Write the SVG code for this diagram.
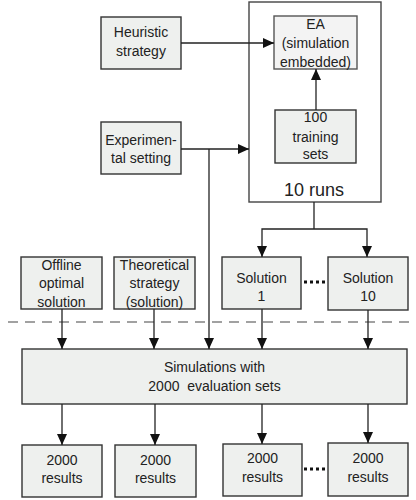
<svg xmlns="http://www.w3.org/2000/svg" width="416" height="500" viewBox="0 0 416 500">
<defs>
<marker id="ah" markerWidth="11" markerHeight="10" refX="11" refY="5" orient="auto" markerUnits="userSpaceOnUse">
<path d="M0,0 L11,5 L0,10 Z" fill="#111"/>
</marker>
<style>
.box{fill:#eef0ee;stroke:#333;stroke-width:1.4}
.ea{fill:#f3f3f3;stroke:#555;stroke-width:1.4}
.frame{fill:#fff;stroke:#444;stroke-width:1.4}
.t{font-family:"Liberation Sans",Arial,sans-serif;font-size:14px;fill:#222;text-anchor:middle}
.big{font-size:18px}
.c{stroke:#222;stroke-width:1.3;fill:none}
.a{stroke:#222;stroke-width:1.3;fill:none;marker-end:url(#ah)}
.dots{stroke:#111;stroke-width:3;stroke-dasharray:3 3}
</style>
</defs>
<rect width="416" height="500" fill="#fff"/>

<g id="runs">
<rect class="frame" x="249" y="2" width="132" height="200"/>
<text class="t big" x="314" y="196">10 runs</text>
</g>
<g id="ea">
<rect class="ea" x="274" y="16" width="83" height="53"/>
<text class="t" x="315.5" y="29">EA</text>
<text class="t" x="315.5" y="48">(simulation</text>
<text class="t" x="315.5" y="66.5">embedded)</text>
</g>
<g id="training">
<rect class="box" x="275" y="110" width="81" height="53"/>
<text class="t" x="315.5" y="122">100</text>
<text class="t" x="315.5" y="141.5">training</text>
<text class="t" x="315.5" y="159">sets</text>
</g>
<g id="heuristic">
<rect class="box" x="101" y="17" width="80" height="52"/>
<text class="t" x="141" y="37">Heuristic</text>
<text class="t" x="141" y="55.5">strategy</text>
</g>
<g id="experimental">
<rect class="box" x="101" y="122" width="80" height="52"/>
<text class="t" x="141" y="145">Experimen-</text>
<text class="t" x="141" y="163">tal setting</text>
</g>
<g id="offline">
<rect class="box" x="21" y="257" width="81" height="52"/>
<text class="t" x="61.5" y="270">Offline</text>
<text class="t" x="61.5" y="288">optimal</text>
<text class="t" x="61.5" y="306.5">solution</text>
</g>
<g id="theoretical">
<rect class="box" x="114" y="257" width="81" height="52"/>
<text class="t" x="154.5" y="270">Theoretical</text>
<text class="t" x="154.5" y="288">strategy</text>
<text class="t" x="154.5" y="306.5">(solution)</text>
</g>
<g id="solution1">
<rect class="box" x="222" y="257" width="79" height="52"/>
<text class="t" x="261.5" y="283">Solution</text>
<text class="t" x="261.5" y="301">1</text>
</g>
<g id="solution10">
<rect class="box" x="328" y="257" width="80" height="53"/>
<text class="t" x="368" y="282.5">Solution</text>
<text class="t" x="368" y="301">10</text>
</g>
<line class="dots" x1="304" y1="282" x2="326" y2="282"/>
<g id="simulations">
<rect class="box" x="22" y="349" width="385" height="55"/>
<text class="t" x="214.5" y="372">Simulations with</text>
<text class="t" x="214.5" y="391" xml:space="preserve">2000  evaluation sets</text>
</g>
<g id="result1">
<rect class="box" x="22" y="445" width="80" height="52"/>
<text class="t" x="62" y="465">2000</text>
<text class="t" x="62" y="483">results</text>
</g>
<g id="result2">
<rect class="box" x="115" y="445" width="81" height="52"/>
<text class="t" x="155.5" y="465">2000</text>
<text class="t" x="155.5" y="483">results</text>
</g>
<g id="result3">
<rect class="box" x="223" y="444" width="79" height="52"/>
<text class="t" x="262.5" y="463">2000</text>
<text class="t" x="262.5" y="482">results</text>
</g>
<g id="result4">
<rect class="box" x="328" y="443" width="80" height="53"/>
<text class="t" x="368" y="462.5">2000</text>
<text class="t" x="368" y="481.5">results</text>
</g>
<line class="dots" x1="304" y1="469" x2="326" y2="469"/>

<line x1="8" y1="322" x2="416" y2="322" stroke="#444" stroke-width="1.2" stroke-dasharray="10 7"/>

<g id="connectors">
<line class="a" x1="181" y1="43" x2="274" y2="43"/>
<line class="a" x1="316" y1="110" x2="316" y2="69"/>
<line class="a" x1="181" y1="149" x2="249" y2="149"/>
<line class="a" x1="209" y1="149" x2="209" y2="349"/>
<polyline class="c" points="314,202 314,229"/>
<polyline class="a" points="314,229 262,229 262,257"/>
<polyline class="a" points="314,229 367,229 367,257"/>
<line class="a" x1="62" y1="309" x2="62" y2="349"/>
<line class="a" x1="154" y1="309" x2="154" y2="349"/>
<line class="a" x1="262" y1="309" x2="262" y2="349"/>
<line class="a" x1="368" y1="310" x2="368" y2="349"/>
<line class="a" x1="62" y1="404" x2="62" y2="445"/>
<line class="a" x1="155" y1="404" x2="155" y2="445"/>
<line class="a" x1="262" y1="404" x2="262" y2="444"/>
<line class="a" x1="368" y1="404" x2="368" y2="443"/>
</g>
</svg>
